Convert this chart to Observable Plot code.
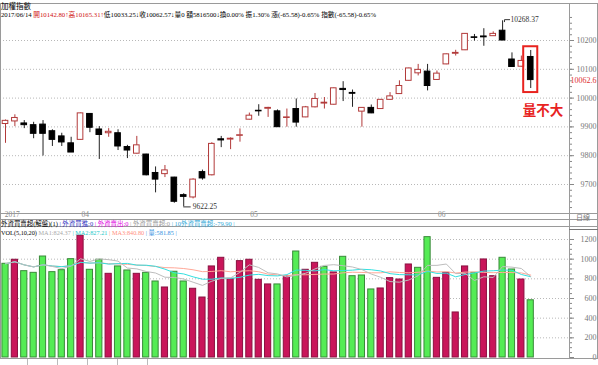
<!DOCTYPE html>
<html><head><meta charset="utf-8">
<script src="https://cdn.jsdelivr.net/npm/d3@7"></script>
<script src="https://cdn.jsdelivr.net/npm/@observablehq/plot@0.6"></script>
<style>
body{margin:0;background:#fff;}
#root{position:relative;width:598px;height:365px;overflow:hidden;background:#fff;font-family:"Liberation Serif","Noto Sans CJK TC",serif;}
.ln{position:absolute;background:#9a9a9a;}
.t{position:absolute;white-space:nowrap;font-size:8px;line-height:9px;color:#000;}
#price,#vol{position:absolute;left:0;}
</style></head><body><div id="root">
<div id="price" style="top:0"></div>
<div id="vol" style="top:227px"></div>
</div>
<script>
// ---- data (TAIEX daily, 2017/03/21 - 2017/06/14) ----
const opens  = [9910,9919,9912,9906,9908,9885,9867,9843,9855,9945,9891,9878,9878,9830,9807,9804,9740,9736,9724,9663,9655,9743,9732,9857,9856,9869,9925,9956,9963,9954,9931,9962,9933,9968,9981,9977,10032,10018,9953,9966,9962,9994,10014,10060,10086,10092,10063,10117,10154,10166,10211,10214,10215,10234,10134,10109,10142.80];
const highs  = [9924,9942,9922,9916,9922,9890,9878,9864,9948,9946,9901,9894,9890,9836,9867,9805,9761,9766,9725,9668,9720,9750,9845,9867,9862,9893,9948,9977,9968,9959,9962,9997,9971,10016,10002,10035,10057,10028,9967,9976,9995,10019,10060,10104,10117,10117,10094,10153,10166,10224,10221,10241,10230,10268.37,10157,10146,10165.31];
const lows   = [9843,9901,9894,9859,9799,9832,9832,9811,9854,9880,9787,9864,9818,9790,9806,9730,9671,9724,9635,9622.25,9650,9715,9730,9828,9821,9847,9924,9937,9933,9899,9899,9899,9932,9966,9962,9976,9988,9968,9899,9946,9961,9993,10013,10059,10077,10025,10062,10116,10146,10165,10198,10180,10214,10199,10107,10108,10033.25];
const closes = [9921,9931,9906,9876,9876,9855,9846,9811,9947,9897,9872,9883,9832,9818,9836,9732,9717,9749,9640,9657,9717,9721,9841,9853,9859,9871,9939,9954,9966,9899,9933,9915,9968,9997,9984,10034,10028,10015,9966,9947,9994,10006,10042,10103,10098,10042,10085,10152,10157,10223,10209,10211,10223,10200,10108,10129,10062.57];
const volumes = [953,994,878,861,1027,868,888,1000,1238,892,994,851,926,885,851,861,773,712,872,773,699,610,926,1014,800,980,994,790,743,743,827,1078,892,963,922,865,1024,827,834,692,702,807,793,946,912,1224,810,861,458,926,861,997,827,1014,895,793,581.85];
const volSide = ["g","r","g","g","g","g","g","g","r","g","g","r","g","g","r","g","g","r","g","g","r","r","r","r","r","r","r","r","r","g","r","g","r","r","g","r","g","g","g","g","r","r","r","r","g","g","r","r","r","r","g","r","r","g","g","r","g"];
const monthLabels = ["2017","04","05","06"];
const monthStarts = [0,9,27,47];            // index of first trading day of each month
const priceTicks = [9700,9800,9900,10000,10100,10200];
const volTicks = [0,200,400,600,800,1000,1200];

const RED = "#b23a3a";
const candles = opens.map((o,i)=>({i,o,h:highs[i],l:lows[i],c:closes[i],up:closes[i]>=o}));
const vols = volumes.map((v,i)=>({i,v,s:volSide[i]}));
const last = candles[candles.length-1];
const hiC = candles.reduce((a,b)=>b.h>a.h?b:a);
const loC = candles.reduce((a,b)=>b.l<a.l?b:a);
const months = monthLabels.map((m,k)=>({m, x: monthStarts[k]-0.5}));
const XD = [-0.5333, 60.1333];
const FONT = "Liberation Serif, Noto Sans CJK TC, serif";

const price = Plot.plot({
  width:598, height:219, marginTop:4, marginBottom:6, marginLeft:0, marginRight:29,
  x:{domain:XD, axis:null},
  y:{domain:[9600,10300], range:[212.8,11.2], axis:null, label:null},
  style:{background:"transparent", fontFamily:FONT, overflow:"visible"},
  marks:[
    Plot.gridY(priceTicks,{stroke:"#b8b8b8", strokeOpacity:1, strokeDasharray:"1,2"}),
    Plot.axisY({anchor:"right", ticks:d3.range(9620,10300,20), tickSize:2, text:null, label:null, stroke:"#888"}),
    Plot.axisY({anchor:"right", ticks:priceTicks, tickSize:4, tickPadding:23, textAnchor:"end", label:null, fontSize:8, fill:"#777", stroke:"#888", tickFormat:d=>String(d)}),
    Plot.ruleX(candles,{x:"i", y1:"l", y2:"h", stroke:d=>d.up?RED:"#222", strokeWidth:1}),
    Plot.rect(candles,{x1:d=>d.i-0.3, x2:d=>d.i+0.3, y1:"o", y2:"c", fill:d=>d.up?"#ffffff":"#000000", stroke:d=>d.up?RED:"#000000", strokeWidth:1}),
    // high / low annotations
    Plot.line([[hiC.i+0.2,hiC.h-3],[hiC.i+0.2,hiC.h+4],[hiC.i+0.75,hiC.h+4]],{x:d=>d[0], y:d=>d[1], stroke:"#333", strokeWidth:1}),
    Plot.text([hiC],{x:"i", y:d=>d.h+4, text:d=>d.h.toFixed(2), dx:8, textAnchor:"start", fontSize:7.5, fill:"#333"}),
    Plot.line([[loC.i,loC.l],[loC.i+0.7,loC.l]],{x:d=>d[0], y:d=>d[1], stroke:"#333", strokeWidth:1}),
    Plot.text([loC],{x:"i", y:"l", text:d=>d.l.toFixed(2), dx:9, textAnchor:"start", fontSize:7.5, fill:"#333"}),
    // last close on axis
    Plot.text([last],{y:"c", frameAnchor:"right", dx:27, textAnchor:"end", text:d=>d.c.toFixed(1), fill:"#e03030", fontSize:8}),
    // highlight box + note
    Plot.rect([last],{x1:d=>d.i-0.75, x2:d=>d.i+0.75, y1:d=>d.l-14, y2:d=>d.h+13, fill:"none", stroke:"#e8231f", strokeWidth:2}),
    Plot.text([last],{x:"i", y:"l", text:()=>"量不大", dx:-8, dy:22, textAnchor:"start", fontSize:13.5, fontWeight:"bold", fill:"#e8231f", fontFamily:"Noto Sans CJK TC"}),
    // month labels on the date strip
    Plot.text(months.slice(0,1),{x:"x", text:"m", frameAnchor:"bottom", dy:3, textAnchor:"start", dx:4, fontSize:7.5, fill:"#888"}),
    Plot.text(months.slice(1),{x:"x", text:"m", frameAnchor:"bottom", dy:3, textAnchor:"middle", fontSize:7.5, fill:"#888"})
  ]
});
document.getElementById("price").appendChild(price);

const vol = Plot.plot({
  width:598, height:132, marginTop:0, marginBottom:1, marginLeft:0, marginRight:29,
  x:{domain:XD, axis:null},
  y:{domain:[0,1200], range:[130,12], axis:null, label:null},
  style:{background:"transparent", fontFamily:FONT, overflow:"visible"},
  marks:[
    Plot.gridY(volTicks.filter(d=>d>0),{stroke:"#b8b8b8", strokeOpacity:1, strokeDasharray:"1,2"}),
    Plot.axisY({anchor:"right", ticks:d3.range(0,1201,50), tickSize:2, text:null, label:null, stroke:"#888"}),
    Plot.axisY({anchor:"right", ticks:volTicks, tickSize:4, tickPadding:23, textAnchor:"end", label:null, fontSize:8, fill:"#777", stroke:"#888", tickFormat:d=>String(d)}),
    Plot.rect(vols,{x1:d=>d.i-0.33, x2:d=>d.i+0.33, y1:0, y2:"v", fill:d=>d.s==="r"?"#c9155a":"#55ec55", stroke:d=>d.s==="r"?"#8a1040":"#3a8a3a", strokeWidth:1}),
    Plot.lineY(vols, Plot.windowY({k:20, anchor:"end", strict:false},{x:"i", y:"v", stroke:"#ffa898", strokeWidth:1})),
    Plot.lineY(vols, Plot.windowY({k:10, anchor:"end", strict:false},{x:"i", y:"v", stroke:"#33e0e0", strokeWidth:1})),
    Plot.lineY(vols, Plot.windowY({k:5, anchor:"end", strict:false},{x:"i", y:"v", stroke:"#bdbdbd", strokeWidth:1}))
  ]
});
document.getElementById("vol").appendChild(vol);

// ---- frame lines ----
const root = document.getElementById("root");
function line(x,y,w,h,c){const d=document.createElement("div");d.className="ln";d.style.cssText=`left:${x}px;top:${y}px;width:${w}px;height:${h}px;`+(c?`background:${c}`:"");root.appendChild(d);}
line(0,3,598,1); line(569,3,1,356); line(597,3,1,356); line(0,3,1,356);
line(0,213,598,1); line(0,219,598,1); line(0,226,598,1); line(569,229,29,1,"#777"); line(0,358,598,1);
[27,57,87,117,147].forEach(x=>line(x,359,1,6,"#bbb"));

// ---- texts ----
function txt(x,y,parts,size,target){
  const d=document.createElement("div");d.className="t";d.style.left=x+"px";d.style.top=y+"px";if(size)d.style.fontSize=size+"px";
  parts.forEach(([s,c])=>{const sp=document.createElement("span");sp.textContent=s;sp.style.color=c||"#000";d.appendChild(sp);});
  root.appendChild(d);
  if(target){const w=d.getBoundingClientRect().width;d.style.fontSize=(parseFloat(getComputedStyle(d).fontSize)*target/w)+"px";}
  return d;
}
txt(1,2,[["加權指數","#000"]],7.5);
txt(1,10,[["2017/06/14 ","#000"],["開10142.80↑","#d01010"],["高10165.31↑","#d01010"],["低10033.25↓","#000"],["收10062.57↓","#000"],["量0 ","#000"],["額5816500↓","#000"],["換0.00% ","#000"],["振1.30% ","#000"],["漲(-65.58)-0.65% ","#000"],["指數(-65.58)-0.65%","#000"]],7.5,376);
txt(1,219,[["外資買賣超(解盤)(1) ","#000"],["| 外資買進:0 ","#3030c0"],["| 外資賣出:0 ","#e000e0"],["| 外資買賣超:0 ","#999"],["| 10外資買賣超:-79.90 |","#30a8d8"]],7.5,234);
txt(1,228,[["VOL(5,10,20) ","#000"],["MA1:824.37 ","#aaa"],["| MA2:827.21 ","#20c8c8"],["| MA3:840.80 ","#ff9080"],["| 量:581.85 |","#3090e0"]],7.5,176);
txt(576,214,[["日線","#777"]],7);
</script>
</body></html>
